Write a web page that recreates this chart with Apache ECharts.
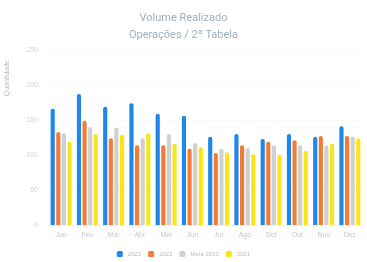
<!DOCTYPE html>
<html>
<head>
<meta charset="utf-8">
<script src="https://cdn.jsdelivr.net/npm/echarts@6/dist/echarts.min.js"></script>
<style>
  html, body { margin: 0; padding: 0; background: #fff; }
  #chart { width: 367px; height: 262px; }
</style>
</head>
<body>
<div id="chart"></div>
<script>
// dados
var meses = ['Jan', 'Fev', 'Mar', 'Abr', 'Mai', 'Jun', 'Jul', 'Ago', 'Set', 'Out', 'Nov', 'Dez'];
var serieA = [166, 187, 169, 174, 159, 156, 126, 130, 123, 130, 126, 141];
var serieB = [133, 149, 124, 114, 114, 109, 103, 114, 119, 121, 127, 127];
var serieC = [131, 140, 139, 124, 130, 117, 109, 110, 114, 114, 114, 126];
var serieD = [119, 130, 129, 131, 116, 111, 104, 101, 100, 106, 116, 124];
var nomes = ['2023', '2022', 'Meta 2023', '2021'];

var chart = echarts.init(document.getElementById('chart'));

function barra (nome, dados, cor) {
  return {
    name: nome,
    type: 'bar',
    data: dados,
    barGap: '35%',
    barCategoryGap: '20%',
    itemStyle: { color: cor, borderRadius: [2, 2, 0, 0] }
  };
}

var option = {
  animation: false,
  title: {
    text: 'Volume Realizado',
    subtext: 'Operações / 2ª Tabela',
    left: 'center',
    top: 8,
    itemGap: 6,
    textStyle: { fontSize: 11, fontWeight: 'normal', color: '#9cb0c4', fontFamily: 'Roboto' },
    subtextStyle: { fontSize: 11, color: '#9cb0c4', fontFamily: 'Roboto' }
  },
  legend: {
    bottom: 0,
    left: 'center',
    itemWidth: 6,
    itemHeight: 6,
    itemGap: 7,
    textStyle: { fontSize: 6, color: '#bbb' },
    data: nomes
  },
  // nome do eixo y, lá na borda esquerda
  graphic: [{
    type: 'text',
    left: 4,
    top: 60,
    rotation: Math.PI / 2,
    style: { text: 'Quantidade', fontSize: 7, fill: '#bbb' }
  }],
  grid: { left: 48, right: 4, top: 50, bottom: 37 },
  xAxis: {
    type: 'category',
    data: meses,
    axisLine: { lineStyle: { color: '#f0f0f0' } },
    axisTick: { show: false },
    axisLabel: { fontSize: 7, color: '#c8c8c8', margin: 7 }
  },
  yAxis: {
    type: 'value',
    min: 0,
    max: 250,
    interval: 50,
    axisLine: { show: false },
    axisTick: { show: false },
    axisLabel: { fontSize: 7, color: '#d4d4d4', margin: 10 },
    splitLine: { lineStyle: { color: '#f8f8f8' } }
  },
  series: [
    barra(nomes[0], serieA, '#1f86ea'),
    barra(nomes[1], serieB, '#f47a35'),
    barra(nomes[2], serieC, '#d0d0d0'),
    barra(nomes[3], serieD, '#fbe41a')
  ]
};

chart.setOption(option);
</script>
</body>
</html>
